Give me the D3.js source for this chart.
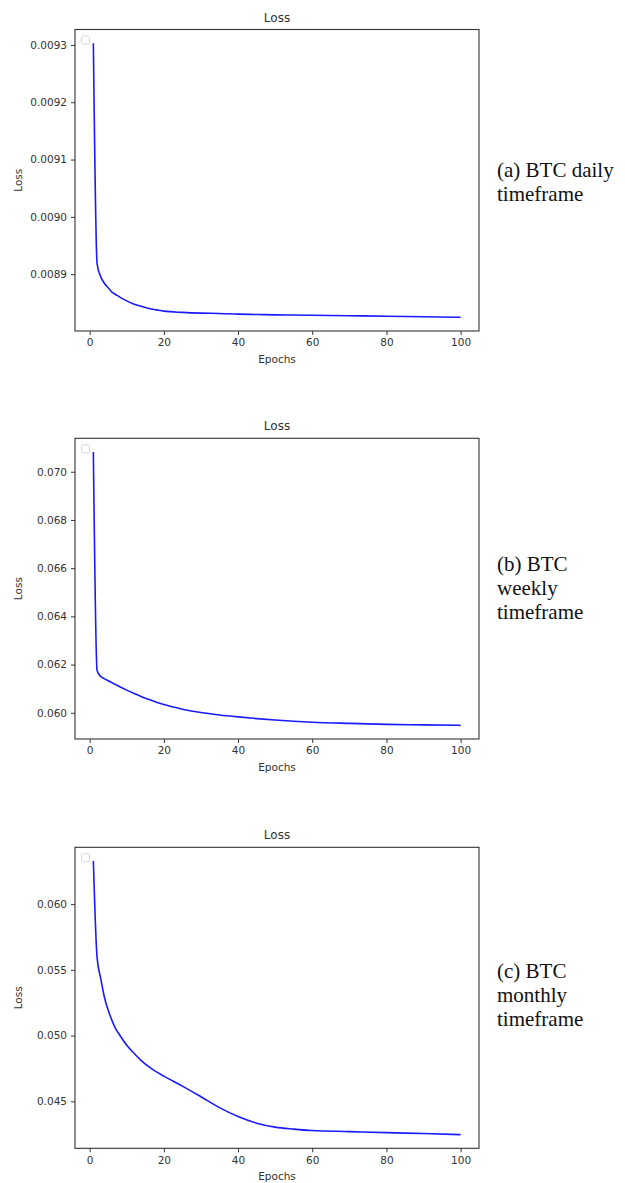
<!DOCTYPE html>
<html>
<head>
<meta charset="utf-8">
<script src="https://cdn.jsdelivr.net/npm/d3@7"></script>
<style>
  body { margin: 0; background: #fff; }
  svg text { font-family: "DejaVu Sans", sans-serif; fill: #333; }
  .caption { font-family: "Liberation Serif", "Times New Roman", serif; font-size: 21px; fill: #111; }
</style>
</head>
<body>
<div id="chart"></div>
<script>
// ===========================================
// Data read off the picture (sampled epochs)
var epochs = [1, 2, 3, 4, 5, 6, 7, 8, 10, 12, 14, 16, 18, 20, 25, 30, 35, 40, 45, 50, 55, 60, 70, 80, 90, 100];

var dailyLoss = [0.009303, 0.0089186, 0.0088953, 0.0088838, 0.0088762, 0.0088686, 0.0088646, 0.0088605,
    0.0088535, 0.0088477, 0.0088437, 0.0088402, 0.0088378, 0.0088355, 0.0088333, 0.008832, 0.0088315,
    0.0088303, 0.0088297, 0.008829, 0.0088287, 0.0088283, 0.0088275, 0.0088267, 0.0088258, 0.0088248];

var weeklyLoss = [0.07082, 0.061752, 0.061504, 0.061408, 0.06133, 0.06125, 0.06117, 0.06109,
    0.06094, 0.0608, 0.06067, 0.06055, 0.06044, 0.06034, 0.06015, 0.06001, 0.05991,
    0.05983, 0.05976, 0.0597, 0.05965, 0.05961, 0.05956, 0.05952, 0.0595, 0.05948];

var monthlyLoss = [0.06328, 0.05595, 0.05432, 0.0529, 0.05192, 0.05116, 0.05053, 0.05008,
    0.04927, 0.04864, 0.04808, 0.04762, 0.04724, 0.04692, 0.04616, 0.04535, 0.04452,
    0.04384, 0.04334, 0.04304, 0.04289, 0.04278, 0.0427, 0.04262, 0.04255, 0.04247];

var xTicks = [0, 20, 40, 60, 80, 100];
var dailyTicks = [0.0089, 0.0090, 0.0091, 0.0092, 0.0093];
var weeklyTicks = [0.060, 0.062, 0.064, 0.066, 0.068, 0.070];
var monthlyTicks = [0.045, 0.050, 0.055, 0.060];

var dailyCaption = ["(a) BTC daily", "timeframe"];
var weeklyCaption = ["(b) BTC", "weekly", "timeframe"];
var monthlyCaption = ["(c) BTC", "monthly", "timeframe"];

// ===========================================
// Set up SVG
var svgWidth = 625;
var svgHeight = 1183;

var svg = d3.select("#chart")
    .append("svg")
    .attr("width", svgWidth)
    .attr("height", svgHeight);

var panels = [
    {values: dailyLoss, ticks: dailyTicks, fmt: ".4f", top: 29.5, bottom: 331, caption: dailyCaption, capY: 177},
    {values: weeklyLoss, ticks: weeklyTicks, fmt: ".3f", top: 438.3, bottom: 739, caption: weeklyCaption, capY: 571},
    {values: monthlyLoss, ticks: monthlyTicks, fmt: ".3f", top: 847.3, bottom: 1148.3, caption: monthlyCaption, capY: 978}
];

var left = 75, right = 479;

// matplotlib style 5% margins
function padded(ext) {
    var pad = (ext[1] - ext[0]) * 0.05;
    return [ext[0] - pad, ext[1] + pad];
}

panels.forEach(function(p) {
    var g = svg.append("g");

    var xscale = d3.scaleLinear().domain(padded(d3.extent(epochs))).range([left, right]);
    var yscale = d3.scaleLinear().domain(padded(d3.extent(p.values))).range([p.bottom, p.top]);

    // axes
    var b_axis = d3.axisBottom(xscale).tickValues(xTicks).tickSize(4).tickPadding(4);
    var l_axis = d3.axisLeft(yscale).tickValues(p.ticks).tickFormat(d3.format(p.fmt)).tickSize(4).tickPadding(4);

    var bx = g.append("g")
        .attr("transform", `translate(0, ${p.bottom})`)
        .call(b_axis);
    var ly = g.append("g")
        .attr("transform", `translate(${left}, 0)`)
        .call(l_axis);

    [bx, ly].forEach(function(a) {
        a.select(".domain").remove();
        a.selectAll(".tick line").attr("stroke", "#333");
        a.selectAll(".tick text").attr("font-size", "10.5px").attr("fill", "#333")
            .style("font-family", "'DejaVu Sans', sans-serif");
    });

    // frame
    g.append("rect")
        .attr("x", left)
        .attr("y", p.top)
        .attr("width", right - left)
        .attr("height", p.bottom - p.top)
        .attr("fill", "none")
        .attr("stroke", "#333")
        .attr("stroke-width", 1.1);

    // empty legend box
    g.append("rect")
        .attr("x", left + 6.5)
        .attr("y", p.top + 6.5)
        .attr("width", 8)
        .attr("height", 8)
        .attr("rx", 1.5)
        .attr("fill", "none")
        .attr("stroke", "#d8d8d8");

    // loss line
    var line = d3.line()
        .x(function(d, i) { return xscale(epochs[i]); })
        .y(function(d) { return yscale(d); })
        .curve(d3.curveMonotoneX);

    g.append("path")
        .datum(p.values)
        .attr("d", line)
        .attr("fill", "none")
        .attr("stroke", "#1a1aff")
        .attr("stroke-width", 1.6);

    // title and axis labels
    g.append("text")
        .attr("x", (left + right) / 2)
        .attr("y", p.top - 8)
        .attr("text-anchor", "middle")
        .attr("font-size", "12px")
        .text("Loss");

    g.append("text")
        .attr("x", (left + right) / 2)
        .attr("y", p.bottom + 32)
        .attr("text-anchor", "middle")
        .attr("font-size", "10.5px")
        .text("Epochs");

    g.append("text")
        .attr("transform", `translate(22, ${(p.top + p.bottom) / 2}) rotate(-90)`)
        .attr("text-anchor", "middle")
        .attr("font-size", "10.5px")
        .text("Loss");

    // caption on the right
    var cap = g.append("text")
        .attr("class", "caption")
        .attr("x", 497)
        .attr("y", p.capY);
    p.caption.forEach(function(s, i) {
        cap.append("tspan")
            .attr("x", 497)
            .attr("dy", i === 0 ? 0 : 24)
            .text(s);
    });
});
</script>
</body>
</html>
